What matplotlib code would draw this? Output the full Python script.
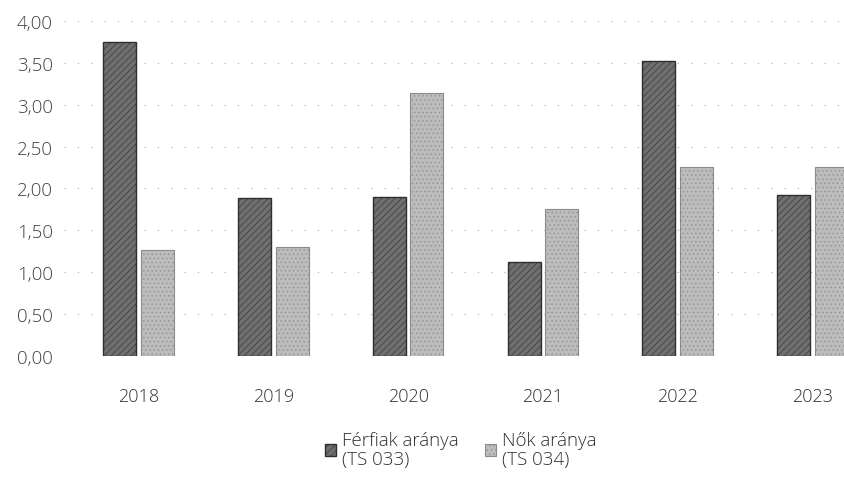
import matplotlib
matplotlib.use("Agg")
import matplotlib.pyplot as plt
import numpy as np

# ---------------------------------------------------------
# Data
# ---------------------------------------------------------

years = ["2018", "2019", "2020", "2021", "2022", "2023"]
ferfiak = [3.75, 1.88, 1.90, 1.12, 3.52, 1.92]
nok = [1.26, 1.30, 3.14, 1.75, 2.26, 2.26]

series_labels = ["Férfiak aránya\n(TS 033)", "Nők aránya\n(TS 034)"]
y_ticks = [0, 0.5, 1.0, 1.5, 2.0, 2.5, 3.0, 3.5, 4.0]

plt.rcParams["font.family"] = ["Open Sans", "DejaVu Sans"]
plt.rcParams["hatch.linewidth"] = 0.4

fig = plt.figure(figsize=(8.45, 4.85), dpi=100)
ax = fig.add_axes([0.076, 0.264, 0.924, 0.691])

x = np.arange(len(years))
width = 0.245
offset = 0.14

ax.bar(x - offset, ferfiak, width, color="#6f6f6f", edgecolor="#2e2e2e",
       linewidth=1.0, hatch="/////", label=series_labels[0], zorder=3)
ax.bar(x + offset, nok, width, color="#bcbcbc", edgecolor="#8a8a8a",
       linewidth=0.8, hatch="....", label=series_labels[1], zorder=3)

ax.set_xlim(-0.55, 5.24)
ax.set_ylim(0, 4.0)
ax.set_yticks(y_ticks)
ax.set_yticklabels([f"{v:.2f}".replace(".", ",") for v in y_ticks])
ax.set_xticks(x)
ax.set_xticklabels(years)

ax.yaxis.grid(True, color="#a8a8a8", linestyle=(0, (1, 11)), linewidth=0.8)
ax.set_axisbelow(True)
for side in ["top", "right", "left", "bottom"]:
    ax.spines[side].set_visible(False)

ax.tick_params(axis="y", length=0, pad=8, labelsize=13.5, labelcolor="#404040")
ax.tick_params(axis="x", length=0, pad=22, labelsize=13, labelcolor="#303030")
for lbl in ax.get_yticklabels() + ax.get_xticklabels():
    lbl.set_fontweight("light")

leg = fig.legend(
    loc="upper center",
    bbox_to_anchor=(0.545, 0.145),
    ncol=2,
    frameon=False,
    fontsize=13.5,
    handlelength=0.6,
    handleheight=0.6,
    handletextpad=0.3,
    columnspacing=1.4,
    labelcolor="#303030",
)
for t in leg.get_texts():
    t.set_linespacing(1.1)
    t.set_fontweight("light")

fig.savefig("out.png", dpi=100)
